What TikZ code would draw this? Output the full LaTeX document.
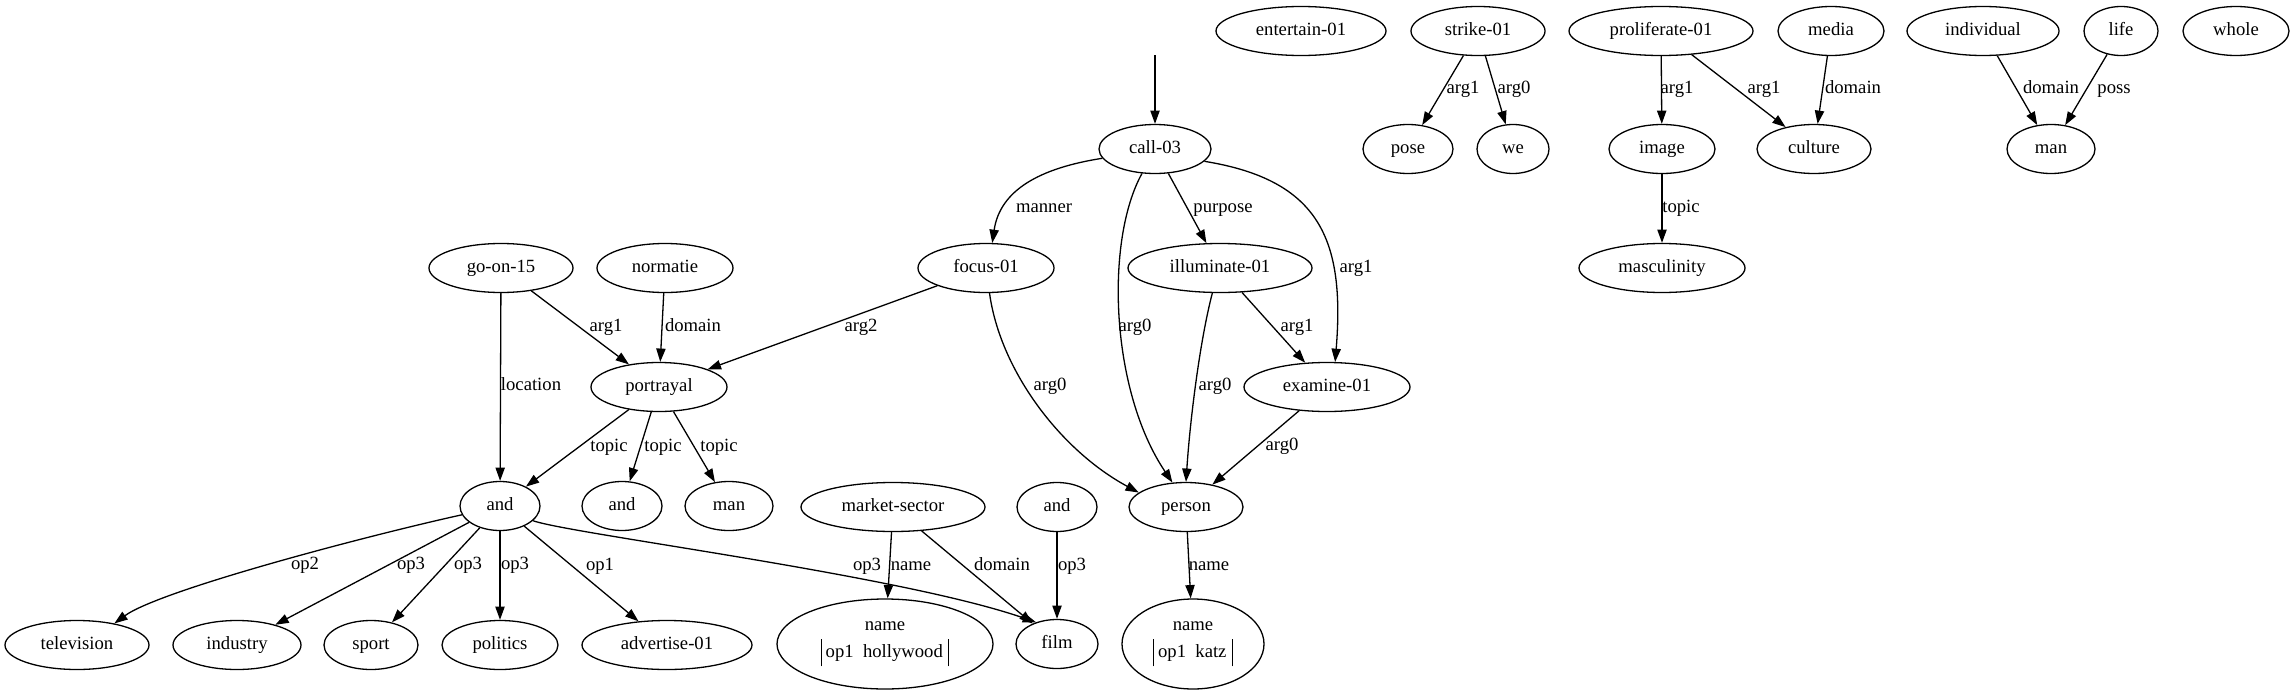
\documentclass[tikz,border=0pt]{standalone}
\usepackage{fontspec}
\setmainfont{Liberation Serif}
\usetikzlibrary{shapes.geometric,arrows.meta}
\newcommand{\tallbar}{\rule[-9pt]{1.3pt}{27pt}}
\begin{document}
\begin{tikzpicture}[x=1pt,y=-1pt,
  every node/.style={font=\fontsize{18.67}{26.7}\selectfont},
  nd/.style={ellipse,draw,line width=1.3pt,inner sep=0pt,minimum height=49pt,text height=13pt,text depth=4pt},
  nm/.style={ellipse,draw,line width=1.3pt,inner sep=0pt,minimum height=90pt,align=center},
  lbl/.style={inner sep=0pt,text height=13pt,text depth=4pt},
  conn/.style={line width=1.3pt,-{Triangle[length=13.3pt,width=9.3pt]}}]
\useasboundingbox (0,0) rectangle (2294,696);
% rank 0
\node[nd,minimum width=170pt] (entertain) at (1301,31) {entertain-01};
\node[nd,minimum width=134pt] (strike) at (1478,31) {strike-01};
\node[nd,minimum width=184pt] (prolif) at (1661,31) {proliferate-01};
\node[nd,minimum width=106pt] (media) at (1831,31) {media};
\node[nd,minimum width=152pt] (indiv) at (1983,31) {individual};
\node[nd,minimum width=74pt] (life) at (2121,31) {life};
\node[nd,minimum width=106pt] (whole) at (2236,31) {whole};
\coordinate (root) at (1155,55);
% rank 1
\node[nd,minimum width=112pt] (call) at (1155,149) {call-03};
\node[nd,minimum width=90pt] (pose) at (1408,149) {pose};
\node[nd,minimum width=72pt] (we) at (1513,149) {we};
\node[nd,minimum width=106pt] (image) at (1662,149) {image};
\node[nd,minimum width=114pt] (culture) at (1814,149) {culture};
\node[nd,minimum width=88pt] (manB) at (2051,149) {man};
% rank 2
\node[nd,minimum width=136pt] (focus) at (986,268) {focus-01};
\node[nd,minimum width=184pt] (illum) at (1220,268) {illuminate-01};
\node[nd,minimum width=144pt] (goon) at (501,268) {go-on-15};
\node[nd,minimum width=136pt] (norm) at (665,268) {normatie};
\node[nd,minimum width=166pt] (masc) at (1662,268) {masculinity};
% rank 3
\node[nd,minimum width=136pt] (portr) at (659,387) {portrayal};
\node[nd,minimum width=166pt] (exam) at (1327,387) {examine-01};
% rank 4
\node[nd,minimum width=80pt] (andL) at (500,506) {and};
\node[nd,minimum width=80pt] (andM) at (622,506) {and};
\node[nd,minimum width=88pt] (manA) at (729,506) {man};
\node[nd,minimum width=184pt] (market) at (893,507) {market-sector};
\node[nd,minimum width=80pt] (andR) at (1057,507) {and};
\node[nd,minimum width=114pt] (person) at (1186,507) {person};
% rank 5
\node[nd,minimum width=144pt] (tv) at (77,645) {television};
\node[nd,minimum width=128pt] (industry) at (237,645) {industry};
\node[nd,minimum width=94pt] (sport) at (371,645) {sport};
\node[nd,minimum width=116pt] (politics) at (500,645) {politics};
\node[nd,minimum width=170pt] (advert) at (667,645) {advertise-01};
\node[nm,minimum width=216pt] (holly) at (885,644) {name\\\tallbar\hspace{3.6pt}op1~~hollywood\hspace{5pt}\tallbar};
\node[nd,minimum width=82pt] (film) at (1057,644) {film};
\node[nm,minimum width=142pt] (katz) at (1193,644) {name\\\tallbar\hspace{3.6pt}op1~~katz\hspace{5pt}\tallbar};

% edges
\draw[conn] (root) -- (call);
\draw[conn] (call.190) .. controls (1040,168) and (1000,190) .. (focus.76);
\node[lbl] (l1) at (1044,208) {manner};
\draw[conn] (call) -- (illum);
\node[lbl] (l2) at (1223,208) {purpose};
\draw[conn] (call.346) .. controls (1320,180) and (1345,240) .. (exam.72);
\node[lbl] (l3) at (1356,268) {arg1};
\draw[conn] (call.242) .. controls (1105,240) and (1110,390) .. (person.119);
\node[lbl] (l4) at (1135,327) {arg0};
\draw[conn] (illum) -- (exam);
\node[lbl] (l5) at (1297,327) {arg1};
\draw[conn] (focus.278) .. controls (1000,370) and (1060,450) .. (person.163);
\node[lbl] (l6) at (1050,386) {arg0};
\draw[conn] (illum.253) .. controls (1200,340) and (1190,420) .. (person.90);
\node[lbl] (l7) at (1215,386) {arg0};
\draw[conn] (exam) -- (person);
\node[lbl] (l8) at (1282,446) {arg0};
\draw[conn] (focus) -- (portr);
\node[lbl] (l9) at (861,327) {arg2};
\draw[conn] (goon) -- (portr);
\node[lbl] (l10) at (606,327) {arg1};
\draw[conn] (norm) -- (portr);
\node[lbl] (l11) at (693,327) {domain};
\draw[conn] (goon) -- (andL);
\node[lbl] (l12) at (531,386) {location};
\draw[conn] (portr) -- (andL);
\node[lbl] (l13) at (609,447) {topic};
\draw[conn] (portr) -- (andM);
\node[lbl] (l14) at (663,447) {topic};
\draw[conn] (portr) -- (manA);
\node[lbl] (l15) at (719,447) {topic};
\draw[conn] (andL.193) .. controls (370,535) and (160,590) .. (tv.30);
\node[lbl] (l16) at (305,565) {op2};
\draw[conn] (andL) -- (industry);
\node[lbl] (l17) at (411,565) {op3};
\draw[conn] (andL) -- (sport);
\node[lbl] (l18) at (468,565) {op3};
\draw[conn] (andL) -- (politics);
\node[lbl] (l19) at (515,565) {op3};
\draw[conn] (andL) -- (advert);
\node[lbl] (l20) at (600,566) {op1};
\draw[conn] (andL.336) .. controls (570,534) and (900,575) .. (film.134);
\node[lbl] (l21) at (867,566) {op3};
\draw[conn] (market) -- (holly);
\node[lbl] (l22) at (911,566) {name};
\draw[conn] (market) -- (film);
\node[lbl] (l23) at (1002,566) {domain};
\draw[conn] (andR) -- (film);
\node[lbl] (l24) at (1072,566) {op3};
\draw[conn] (person) -- (katz);
\node[lbl] (l25) at (1209,566) {name};
\draw[conn] (strike) -- (pose);
\node[lbl] (l26) at (1463,89) {arg1};
\draw[conn] (strike) -- (we);
\node[lbl] (l27) at (1514,89) {arg0};
\draw[conn] (prolif) -- (image);
\node[lbl] (l28) at (1677,89) {arg1};
\draw[conn] (prolif) -- (culture);
\node[lbl] (l29) at (1764,89) {arg1};
\draw[conn] (media) -- (culture);
\node[lbl] (l30) at (1853,89) {domain};
\draw[conn] (image) -- (masc);
\node[lbl] (l31) at (1681,208) {topic};
\draw[conn] (indiv) -- (manB);
\node[lbl] (l32) at (2051,89) {domain};
\draw[conn] (life) -- (manB);
\node[lbl] (l33) at (2114,89) {poss};
\end{tikzpicture}
\end{document}
